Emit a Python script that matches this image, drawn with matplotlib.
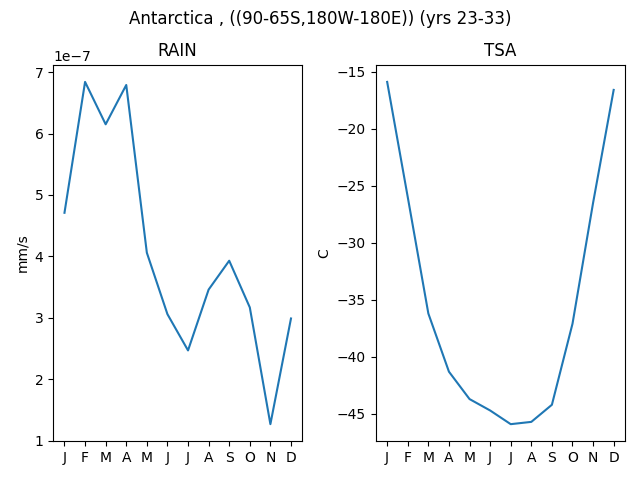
import numpy as np
import matplotlib
matplotlib.use("Agg")
import matplotlib.pyplot as plt

months = ["J", "F", "M", "A", "M", "J", "J", "A", "S", "O", "N", "D"]
rain = [4.71e-7, 6.84e-7, 6.15e-7, 6.79e-7, 4.06e-7, 3.06e-7,
        2.47e-7, 3.46e-7, 3.93e-7, 3.17e-7, 1.27e-7, 2.99e-7]
tsa = [-15.9, -26.0, -36.2, -41.3, -43.7, -44.7,
       -45.9, -45.7, -44.2, -37.1, -26.5, -16.6]

fig, axes = plt.subplots(1, 2, figsize=(6.4, 4.8), dpi=100)
x = np.arange(len(months))

axes[0].plot(x, rain)
axes[0].set_title("RAIN")
axes[0].set_ylabel("mm/s")

axes[1].plot(x, tsa)
axes[1].set_title("TSA")
axes[1].set_ylabel("C")

for ax in axes:
    ax.set_xticks(x)
    ax.set_xticklabels(months)

fig.suptitle("Antarctica , ((90-65S,180W-180E)) (yrs 23-33)")
fig.tight_layout()
fig.subplots_adjust(top=0.865)
fig.savefig("out.png")
